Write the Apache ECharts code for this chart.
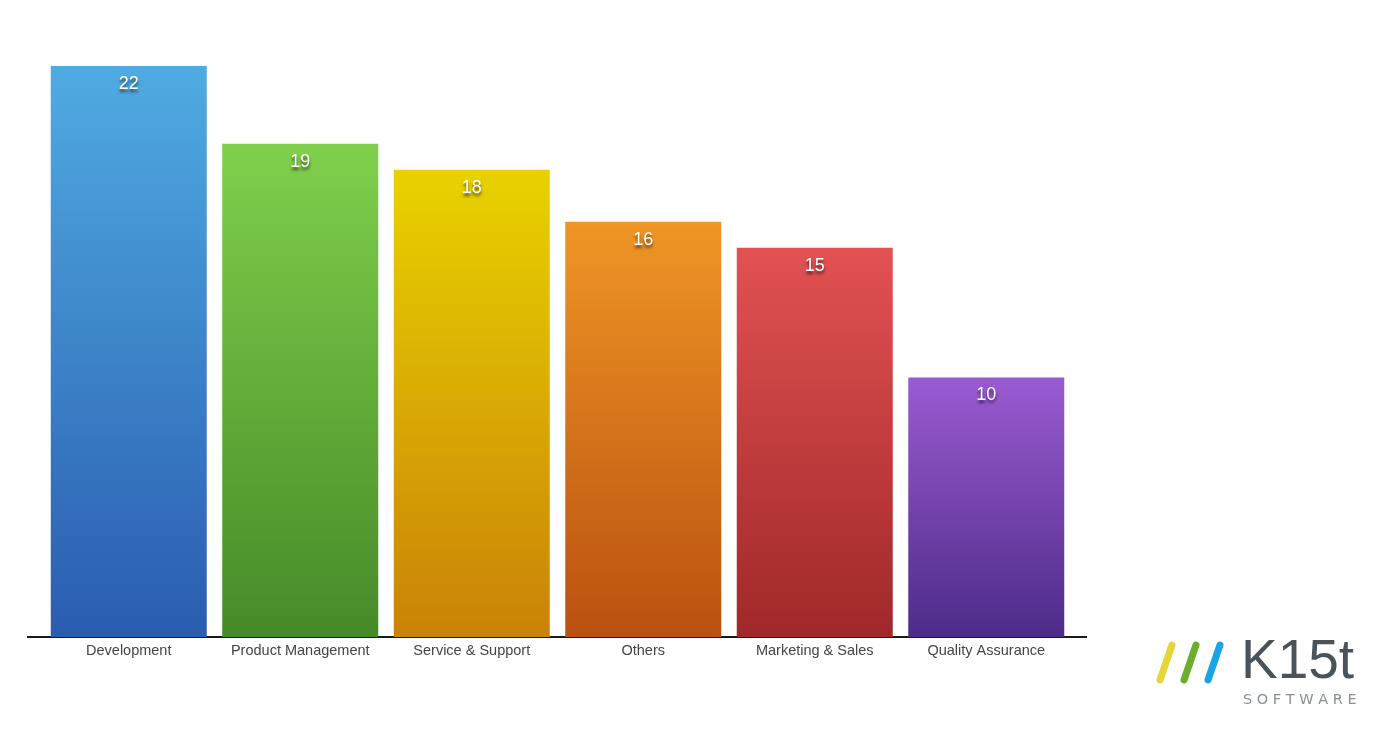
<!DOCTYPE html>
<html>
<head>
<meta charset="utf-8">
<script src="https://cdn.jsdelivr.net/npm/echarts@6/dist/echarts.min.js"></script>
<style>html,body{margin:0;padding:0;background:#fff}#c{width:1400px;height:750px}</style>
</head>
<body>
<div id="c"></div>
<script>
var categories = ['Development', 'Product Management', 'Service & Support', 'Others', 'Marketing & Sales', 'Quality Assurance'];
var values = [22, 19, 18, 16, 15, 10];
var topColors = ['#50abe2', '#80d04c', '#e8d200', '#ef9626', '#e25252', '#9a5bd2'];
var bottomColors = ['#2a5cb0', '#468a28', '#ca8208', '#bb5010', '#a0282a', '#4d2b88'];

var chart = echarts.init(document.getElementById('c'), null, {renderer: 'canvas'});
var data = values.map(function (v, i) {
  return {
    value: v,
    itemStyle: {
      color: new echarts.graphic.LinearGradient(0, 0, 0, 1, [
        {offset: 0, color: topColors[i]},
        {offset: 1, color: bottomColors[i]}
      ])
    }
  };
});

chart.setOption({
  animation: false,
  backgroundColor: '#ffffff',
  grid: {left: 43, top: 66, width: 1029, height: 571, containLabel: false},
  xAxis: {
    type: 'category',
    data: categories,
    axisLine: {show: false},
    axisTick: {show: false},
    axisLabel: {interval: 0, color: '#454545', fontSize: 14.5, fontFamily: 'Liberation Sans, Arial, sans-serif', margin: 6}
  },
  yAxis: {type: 'value', min: 0, max: 22, show: false, splitLine: {show: false}},
  series: [{
    type: 'bar',
    data: data,
    barWidth: 156,
    label: {
      show: true,
      position: 'insideTop',
      distance: 9,
      color: '#ffffff',
      fontSize: 18,
      fontFamily: 'Liberation Sans, Arial, sans-serif',
      textShadowColor: 'rgba(0,0,0,0.65)',
      textShadowBlur: 3,
      textShadowOffsetY: 3
    }
  }],
  graphic: [
    {type: 'line', shape: {x1: 27, y1: 637, x2: 1087, y2: 637}, style: {stroke: '#1a1a1a', lineWidth: 2}},
    {type: 'line', shape: {x1: 1172, y1: 645, x2: 1160, y2: 680}, style: {stroke: '#e3d53a', lineWidth: 7, lineCap: 'round'}},
    {type: 'line', shape: {x1: 1196, y1: 645, x2: 1184, y2: 680}, style: {stroke: '#6aae2c', lineWidth: 7, lineCap: 'round'}},
    {type: 'line', shape: {x1: 1220, y1: 645, x2: 1208, y2: 680}, style: {stroke: '#1aa3e6', lineWidth: 7, lineCap: 'round'}},
    {type: 'text', x: 1241, y: 663, style: {text: 'K15t', fill: '#4a535a', font: '55px "Liberation Sans", Arial, sans-serif', verticalAlign: 'middle'}},
    {type: 'text', x: 1243, y: 700, style: {text: 'S O F T W A R E', fill: '#8a9095', font: '14.5px "DejaVu Sans", sans-serif', verticalAlign: 'middle'}}
  ]
});
</script>
</body>
</html>
